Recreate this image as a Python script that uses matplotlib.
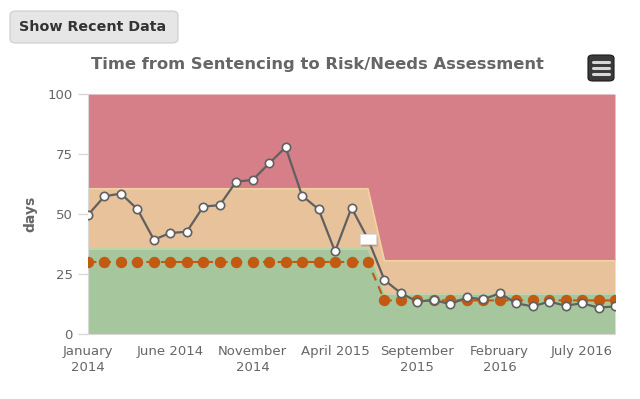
import matplotlib.pyplot as plt
import numpy as np
from matplotlib.patches import FancyBboxPatch
from matplotlib.path import Path
from matplotlib.lines import Line2D

# monthly values, Jan 2014 .. Sep 2016
days = [49.6, 57.4, 58.5, 52.0, 39.3, 42.1, 42.6, 53.1, 53.7, 63.5,
        64.2, 71.1, 77.8, 57.6, 52.0, 34.4, 52.6, 39.6, 22.5, 17.0,
        13.5, 14.2, 12.4, 15.3, 14.4, 17.0, 12.8, 11.5, 13.5, 11.8,
        12.8, 11.0, 11.5]
target = [30] * 18 + [14] * 15
green_top = [35.5] * 18 + [16.7] * 15
orange_top = [60.5] * 18 + [30.5] * 15
red_top = [100] * 33
highlight_idx = 17

tick_idx = [0, 5, 10, 15, 20, 25, 30]
tick_labels = ["January\n2014", "June 2014", "November\n2014", "April 2015",
               "September\n2015", "February\n2016", "July 2016"]
y_ticks = [0, 25, 50, 75, 100]

x = np.arange(len(days))

fig = plt.figure(figsize=(6.4, 3.99), dpi=100)
ax = fig.add_axes([88 / 640, 1 - 334 / 399, 527 / 640, 240 / 399])

ax.fill_between(x, 0, green_top, color="#a6c79e", lw=0, zorder=1)
ax.fill_between(x, green_top, orange_top, color="#e8c29a", lw=0, zorder=1)
ax.fill_between(x, orange_top, red_top, color="#d77f88", lw=0, zorder=1)
ax.plot(x, green_top, color="#b6d3a8", lw=1, zorder=2)
ax.plot(x, orange_top, color="#f2d2a2", lw=1.2, zorder=2)

ax.plot(x, target, color="#c25a11", lw=1.5, ls=(0, (4, 3)), marker="o",
        ms=7.2, mec="#c25a11", mfc="#c25a11", zorder=3)

ax.plot(x, days, color="#606060", lw=1.6, zorder=4)
mask = np.ones(len(days), dtype=bool)
mask[highlight_idx] = False
ax.plot(x[mask], np.array(days)[mask], ls="none", marker="o", ms=6,
        mfc="white", mec="#606060", mew=1.2, zorder=5)

box = Path([(-1, -0.55), (1, -0.55), (1, 0.55), (-1, 0.55), (-1, -0.55)],
           [Path.MOVETO, Path.LINETO, Path.LINETO, Path.LINETO, Path.CLOSEPOLY])
ax.plot(x[highlight_idx] + 0.08, days[highlight_idx] - 0.9, ls="none", marker=box,
        ms=12, mfc="#9a8a80", mec="none", alpha=0.6, zorder=5)
ax.plot(x[highlight_idx], days[highlight_idx], ls="none", marker=box, ms=12,
        mfc="white", mec="#dddddd", mew=0.6, zorder=6)

ax.set_xlim(0, 32)
ax.set_ylim(0, 100)
ax.set_xticks(tick_idx)
ax.set_xticklabels(tick_labels, fontsize=9.5, color="#666666", linespacing=1.25)
ax.set_yticks(y_ticks)
ax.set_yticklabels([str(v) for v in y_ticks], fontsize=9.5, color="#666666")
ax.tick_params(axis="x", length=0, pad=8)
ax.tick_params(axis="y", length=7, width=1, color="#d8d8d8", pad=4)
for s in ["top", "right"]:
    ax.spines[s].set_visible(False)
ax.spines["left"].set_color("#d8d8d8")
ax.spines["bottom"].set_color("#d8d8d8")
ax.set_ylabel("days", fontsize=10, fontweight="bold", color="#666666", labelpad=7)

fig.text(317 / 640, 1 - 65 / 399, "Time from Sentencing to Risk/Needs Assessment",
         ha="center", va="center", fontsize=11.8, fontweight="bold", color="#666666")

btn = FancyBboxPatch((10 / 640, 1 - 43 / 399), 168 / 640, 32 / 399,
                     boxstyle="round,pad=0,rounding_size=0.01",
                     transform=fig.transFigure, fc="#e6e6e6", ec="#cccccc", lw=0.8)
fig.patches.append(btn)
fig.text(93 / 640, 1 - 27 / 399, "Show Recent Data", ha="center", va="center",
         fontsize=10.3, fontweight="bold", color="#333333")

menu = FancyBboxPatch((588 / 640, 1 - 81 / 399), 26 / 640, 26 / 399,
                      boxstyle="round,pad=0,rounding_size=0.008",
                      transform=fig.transFigure, fc="#3a3a3a", ec="#1a1a1a", lw=0.8)
fig.patches.append(menu)
for yy in [62, 68, 74]:
    fig.lines.append(Line2D([593 / 640, 609 / 640], [1 - yy / 399] * 2,
                            transform=fig.transFigure, color="#d8d8d8", lw=2.2,
                            solid_capstyle="round"))

fig.savefig("out.png", dpi=100)
